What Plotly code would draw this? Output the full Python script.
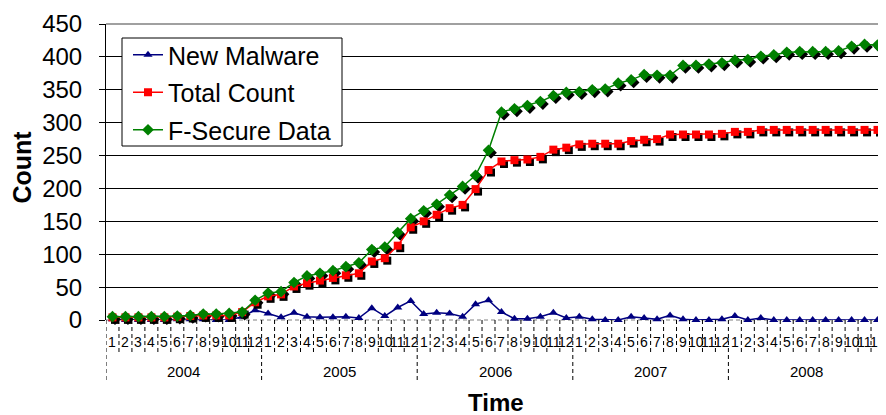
import plotly.graph_objects as go

years = ["2004", "2005", "2006", "2007", "2008"]
months = ["1", "2", "3", "4", "5", "6", "7", "8", "9", "10", "11", "12"]

new_malware = [
    1, 0, 0, 0, 0, 1, 1, 1, 0, 0, 5, 15,
    10, 4, 11, 5, 4, 4, 5, 3, 18, 6, 19, 29,
    9, 11, 10, 5, 24, 30, 12, 2, 2, 5, 11, 3,
    5, 1, 0, 0, 5, 3, 1, 7, 1, 0, 0, 1,
    6, 0, 3, 0, 0, 0, 0, 0, 0, 0, 0, 0,
]
total_count = [
    4, 4, 4, 4, 4, 5, 6, 7, 7, 7, 12, 27,
    36, 39, 51, 56, 60, 64, 68, 71, 89, 94, 113, 141,
    150, 160, 170, 175, 199, 228, 241, 243, 244, 248, 259, 262,
    267, 268, 268, 268, 272, 274, 275, 282, 282, 282, 282, 283,
    286, 286, 289, 289, 289, 289, 289, 289, 289, 289, 289, 289,
]
fsecure = [
    5, 5, 5, 5, 5, 6, 7, 9, 9, 10, 12, 30,
    41, 43, 57, 67, 71, 75, 81, 87, 107, 111, 133, 154,
    166, 176, 190, 203, 220, 258, 316, 321, 326, 332, 341, 346,
    347, 350, 351, 360, 365, 373, 372, 372, 387, 387, 389, 391,
    395, 396, 401, 403, 407, 408, 408, 408, 409, 416, 419, 418,
]
y_ticks = [0, 50, 100, 150, 200, 250, 300, 350, 400, 450]

periods = [f"{y}-{m}" for y in years for m in months]
n = len(periods)

# page body has an 8px margin, so the figure is sized to fit the window
OFF = 8
W, H = 886 - OFF, 415 - OFF
L, T = 106 - OFF, 24 - OFF
R = W - (884 - OFF)
B = H - (320 - OFF)
pw, ph = W - L - R, H - T - B
YMAX = 450
FONT = "Liberation Sans, Arial, sans-serif"


def px_x(xpix):
    return (xpix - 106) / pw


def px_y(ypix):
    return (320 - ypix) / ph


shadow = 2.5
dx = shadow * n / pw
dy = shadow * YMAX / ph

fig = go.Figure()

fig.add_trace(go.Scatter(
    x=periods, y=new_malware, name="New Malware", mode="lines+markers",
    line=dict(color="#000080", width=1.5),
    marker=dict(symbol="triangle-up", size=8, color="#000080"),
    cliponaxis=False, legendgroup="a", xaxis="x", yaxis="y"))

for vals, sym, sz in [(total_count, "square", 8), (fsecure, "diamond", 9)]:
    fig.add_trace(go.Scatter(
        x=periods, y=vals, mode="markers", showlegend=False,
        marker=dict(symbol=sym, size=sz, color="black"),
        cliponaxis=False, xaxis="x2", yaxis="y2", hoverinfo="skip"))

fig.add_trace(go.Scatter(
    x=periods, y=total_count, name="Total Count", mode="lines+markers",
    line=dict(color="#FF0000", width=1.5),
    marker=dict(symbol="square", size=8, color="#FF0000"),
    cliponaxis=False, legendgroup="b", xaxis="x3", yaxis="y3"))
fig.add_trace(go.Scatter(
    x=periods, y=fsecure, name="F-Secure Data", mode="lines+markers",
    line=dict(color="#008000", width=1.5),
    marker=dict(symbol="diamond", size=9, color="#008000"),
    cliponaxis=False, legendgroup="c", xaxis="x3", yaxis="y3"))

xr = [-0.5, n - 0.5]
common_x = dict(type="category", categoryorder="array", categoryarray=periods,
                domain=[0, 1], automargin=False)
fig.update_layout(
    template="none",
    width=W, height=H,
    margin=dict(l=L, r=R, t=T, b=B, autoexpand=False),
    paper_bgcolor="white", plot_bgcolor="rgba(0,0,0,0)",
    font=dict(family=FONT, color="black"),
    showlegend=True,
    xaxis=dict(**common_x, range=xr, anchor="y", showgrid=False,
               showticklabels=False, ticks="", zeroline=False, showline=False),
    yaxis=dict(domain=[0, 1], range=[0, YMAX], anchor="x", tickvals=y_ticks,
               automargin=False,
               showgrid=True, gridcolor="#000000", gridwidth=1,
               zeroline=True, zerolinecolor="rgba(0,0,0,0)",
               showline=True, linecolor="black", linewidth=1,
               ticks="outside", ticklen=6, tickcolor="black",
               tickfont=dict(size=24, family=FONT), ticklabelstandoff=12),
    xaxis2=dict(**common_x, range=[xr[0] - dx, xr[1] - dx], anchor="y2", visible=False),
    yaxis2=dict(domain=[0, 1], range=[dy, YMAX + dy], anchor="x2", visible=False,
                automargin=False),
    xaxis3=dict(**common_x, range=xr, anchor="y3", visible=False),
    yaxis3=dict(domain=[0, 1], range=[0, YMAX], anchor="x3", visible=False,
                automargin=False),
    legend=dict(x=px_x(128), y=px_y(32), xanchor="left", yanchor="top",
                bgcolor="rgba(0,0,0,0)", borderwidth=0,
                font=dict(size=25, family=FONT), tracegroupgap=2,
                itemwidth=30),
)

shapes = []
# legend frame
shapes.append(dict(type="rect", xref="paper", yref="paper",
                   x0=px_x(122), x1=px_x(342), y0=px_y(146), y1=px_y(38),
                   fillcolor="white", line=dict(color="black", width=1), layer="above"))
shapes.append(dict(type="line", xref="paper", yref="paper", x0=0, x1=1, y0=1, y1=1,
                   line=dict(color="#A0A0A0", width=2), layer="above"))
shapes.append(dict(type="line", xref="paper", yref="paper", x0=1, x1=1, y0=0, y1=1,
                   line=dict(color="#A0A0A0", width=2), layer="above"))
shapes.append(dict(type="line", xref="paper", yref="paper", x0=0, x1=1, y0=0, y1=0,
                   line=dict(color="#808080", width=1, dash="4px,3px"), layer="below"))
month_depth = (352 - 320) / ph
year_depth = (382 - 320) / ph
for i in range(n + 1):
    deep = (i % len(months) == 0)
    shapes.append(dict(type="line", xref="x", yref="paper", x0=i - 0.5, x1=i - 0.5,
                       y0=0, y1=-(year_depth if deep else month_depth),
                       line=dict(color="black", width=1, dash="4px,3px")))

annotations = []
for p, m in zip(periods, months * len(years)):
    annotations.append(dict(x=p, y=px_y(342), xref="x", yref="paper",
                            text=m, showarrow=False, xanchor="center", yanchor="middle",
                            font=dict(size=14, family=FONT)))
for k, yv in enumerate(years):
    annotations.append(dict(x=k * len(months) + (len(months) - 1) / 2,
                            y=px_y(371.5), xref="x", yref="paper",
                            text=yv, showarrow=False, xanchor="center", yanchor="middle",
                            font=dict(size=15, family=FONT)))
annotations.append(dict(x=px_x(496), y=px_y(402), xref="paper", yref="paper",
                        text="<b>Time</b>", showarrow=False, xanchor="center", yanchor="middle",
                        borderpad=0, font=dict(size=24, family=FONT)))
annotations.append(dict(x=px_x(21), y=px_y(167.5), xref="paper", yref="paper",
                        text="<b>Count</b>", showarrow=False, textangle=-90,
                        xanchor="center", yanchor="middle",
                        font=dict(size=25, family=FONT)))

fig.update_layout(shapes=shapes, annotations=annotations)
fig.write_html("out.html")
